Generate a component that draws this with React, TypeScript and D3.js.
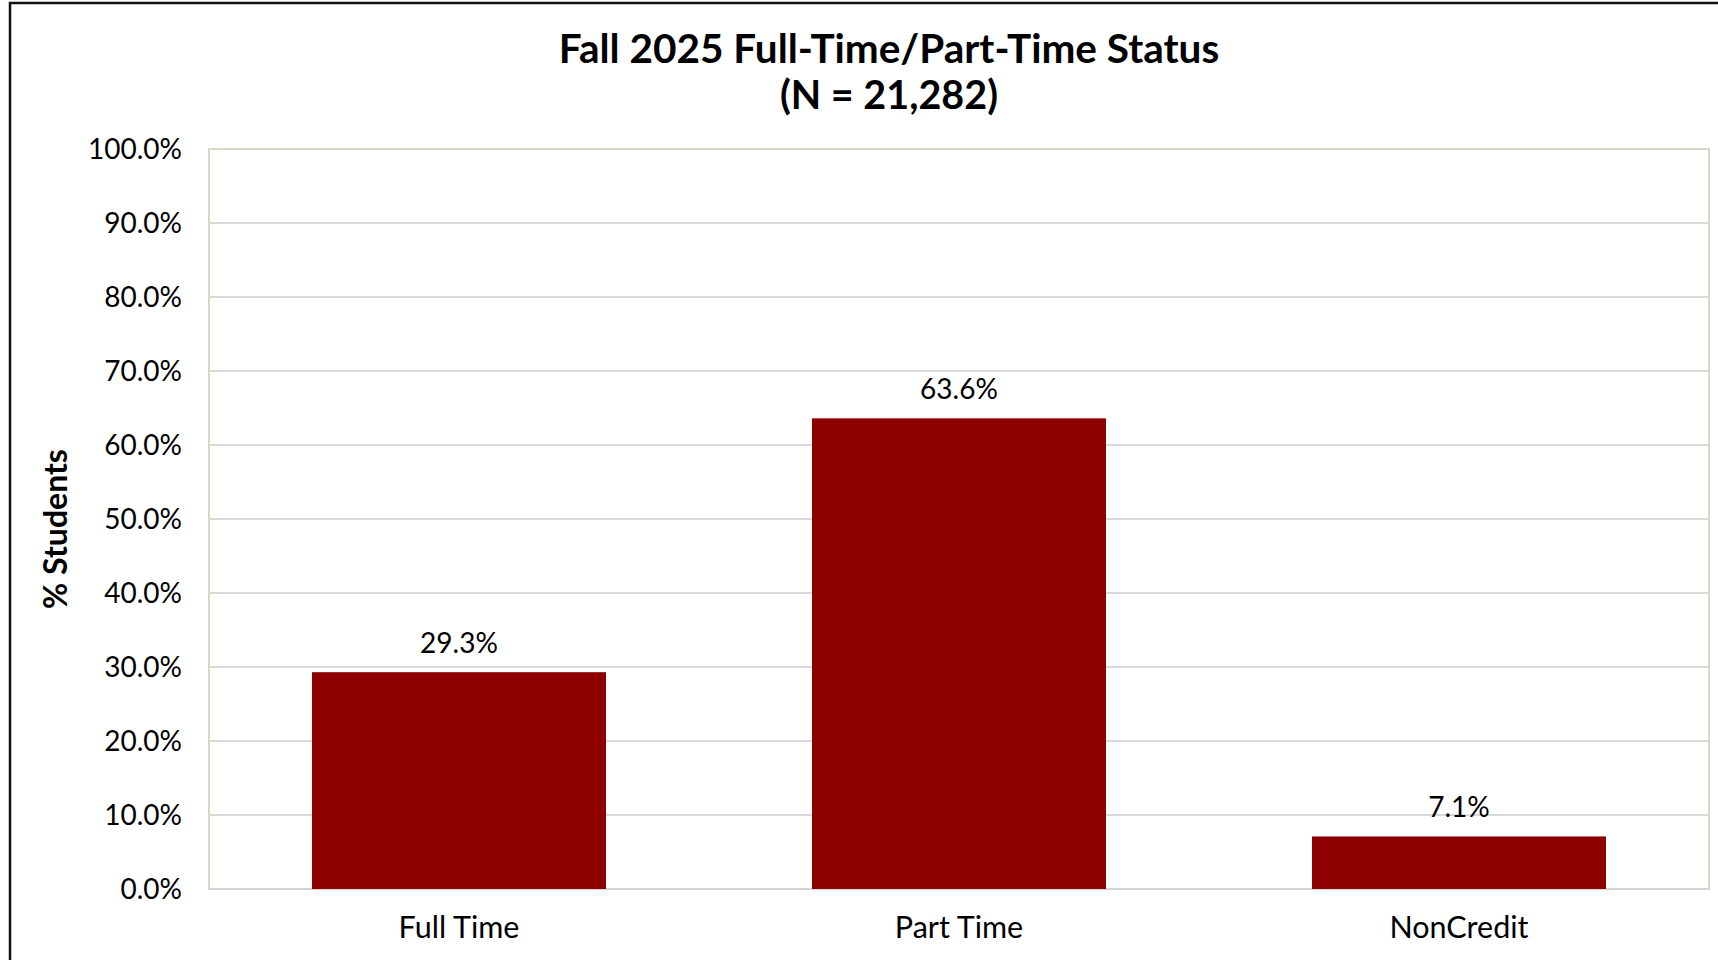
import React from "react";
import * as d3 from "d3";

const categories = ["Full Time", "Part Time", "NonCredit"];
const values = [29.3, 63.6, 7.1];
const yTicks = [0, 10, 20, 30, 40, 50, 60, 70, 80, 90, 100];
const titleLines = ["Fall 2025 Full-Time/Part-Time Status", "(N = 21,282)"];
const yTitle = "% Students";

const W = 1718;
const H = 960;
const plot = { left: 209, right: 1709, top: 149, bottom: 889 };
const FONT = "Lato, 'Noto Sans', sans-serif";
const BAR = "#8e0000";

export default function App() {
  const x = d3
    .scaleBand<string>()
    .domain(categories)
    .range([plot.left, plot.right])
    .paddingInner(0.412)
    .paddingOuter(0.206);
  const y = d3.scaleLinear().domain([0, 100]).range([plot.bottom, plot.top]);
  const fmt = (v: number) => d3.format(".1f")(v) + "%";

  return (
    <svg
      width={W}
      height={H}
      style={{ position: "absolute", left: 0, top: 0, background: "#fff" }}
      fontFamily={FONT}
    >
      <rect x={0} y={0} width={W} height={H} fill="#fff" />
      <rect x={10} y={3} width={W + 100} height={H + 100} fill="none" stroke="#111" strokeWidth={2.5} />

      {titleLines.map((t, i) => (
        <text
          key={t}
          x={889}
          y={63 + i * 46}
          textAnchor="middle"
          fontWeight={700}
          fontSize={i === 0 ? 40.5 : 39.5}
          fill="#000"
        >
          {t}
        </text>
      ))}

      {yTicks.map((t) => (
        <g key={t}>
          {t > 0 && t < 100 && (
            <line x1={plot.left} x2={plot.right} y1={y(t)} y2={y(t)} stroke="#d9d9d9" strokeWidth={2} />
          )}
          <text x={182} y={y(t) + 10} textAnchor="end" fontSize={28} fill="#000">
            {fmt(t)}
          </text>
        </g>
      ))}

      <rect
        x={plot.left}
        y={plot.top}
        width={plot.right - plot.left}
        height={plot.bottom - plot.top}
        fill="none"
        stroke="#d9d7c6"
        strokeWidth={2}
      />
      <line x1={plot.left} x2={plot.right} y1={plot.bottom} y2={plot.bottom} stroke="#d4d4d4" strokeWidth={2} />

      {categories.map((c, i) => (
        <g key={c}>
          <rect
            x={x(c)}
            y={y(values[i])}
            width={x.bandwidth()}
            height={y(0) - y(values[i])}
            fill={BAR}
          />
          <text
            x={(x(c) as number) + x.bandwidth() / 2}
            y={y(values[i]) - 19}
            textAnchor="middle"
            fontSize={28}
            fill="#000"
          >
            {fmt(values[i])}
          </text>
          <text
            x={(x(c) as number) + x.bandwidth() / 2}
            y={938}
            textAnchor="middle"
            fontSize={30.5}
            fill="#000"
          >
            {c}
          </text>
        </g>
      ))}

      <text
        transform={`translate(67, 529) rotate(-90)`}
        textAnchor="middle"
        fontWeight={700}
        fontSize={32}
        fill="#000"
      >
        {yTitle}
      </text>
    </svg>
  );
}
